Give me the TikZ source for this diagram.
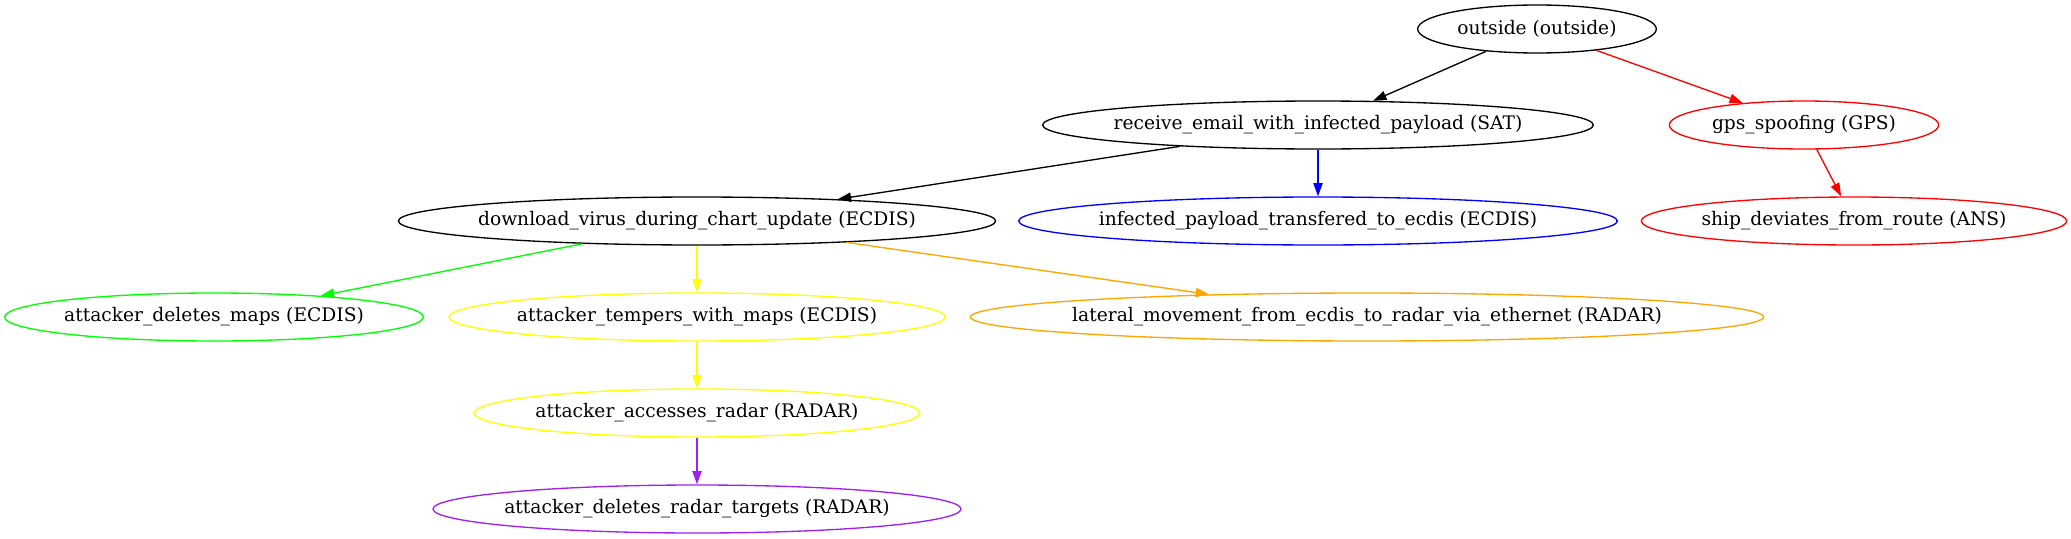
\documentclass[tikz,border=0pt]{standalone}
\usepackage{fontspec}
\setmainfont{DejaVu Serif}
\usetikzlibrary{arrows.meta,positioning,shapes.geometric}
\definecolor{gvgreen}{HTML}{00FF00}
\definecolor{gvyellow}{HTML}{FFFF00}
\definecolor{gvorange}{HTML}{FFA500}
\definecolor{gvblue}{HTML}{0000FF}
\definecolor{gvred}{HTML}{FF0000}
\definecolor{gvpurple}{HTML}{A020F0}
\newcommand{\lbl}[1]{\makebox[0pt]{#1}}
\tikzset{%
	event/.style = {draw, ellipse, line width=1pt, inner sep=0pt, minimum height=36pt, font=\fontsize{14}{16}\selectfont}, % attack step
	link/.style  = {line width=1pt, -{Triangle[length=10pt,width=7pt]}}, % edge
}

\begin{document}
\begin{tikzpicture}[x=0.75pt,y=-0.75pt,node distance=72pt]
		\useasboundingbox (0,0) rectangle (2071,539);
		\node [event, minimum width=179pt] (out) at (1537,29) {\lbl{outside (outside)}};
		\node [event, minimum width=413pt] (rec) at (1318,125) {\lbl{receive\_email\_with\_infected\_payload (SAT)}};
		\node [event, draw=gvred, minimum width=202pt] (gps) at (1804,125) {\lbl{gps\_spoofing (GPS)}};
		\node [event, minimum width=448pt] (dl) at (697,221) {\lbl{download\_virus\_during\_chart\_update (ECDIS)}};
		\node [event, draw=gvblue, minimum width=449pt] (inf) [below of=rec] {\lbl{infected\_payload\_transfered\_to\_ecdis (ECDIS)}};
		\node [event, draw=gvred, minimum width=319pt] (ship) at (1854,221) {\lbl{ship\_deviates\_from\_route (ANS)}};
		\node [event, draw=gvgreen, minimum width=314pt] (delm) at (214,317) {\lbl{attacker\_deletes\_maps (ECDIS)}};
		\node [event, draw=gvyellow, minimum width=372pt] (temp) [below of=dl] {\lbl{attacker\_tempers\_with\_maps (ECDIS)}};
		\node [event, draw=gvorange, minimum width=595pt] (lat) at (1367,317) {\lbl{lateral\_movement\_from\_ecdis\_to\_radar\_via\_ethernet (RADAR)}};
		\node [event, draw=gvyellow, minimum width=334pt] (acc) [below of=temp] {\lbl{attacker\_accesses\_radar (RADAR)}};
		\node [event, draw=gvpurple, minimum width=396pt] (delr) [below of=acc] {\lbl{attacker\_deletes\_radar\_targets (RADAR)}};
		\draw[link] (out) -- (rec);
		\draw[link, gvred] (out) -- (gps);
		\draw[link] (rec) -- (dl);
		\draw[link, gvblue] (rec) -- (inf);
		\draw[link, gvred] (gps) -- (ship);
		\draw[link, gvgreen] (dl) -- (delm);
		\draw[link, gvyellow] (dl) -- (temp);
		\draw[link, gvorange] (dl) -- (lat);
		\draw[link, gvyellow] (temp) -- (acc);
		\draw[link, gvpurple] (acc) -- (delr);
	\end{tikzpicture}
\end{document}
